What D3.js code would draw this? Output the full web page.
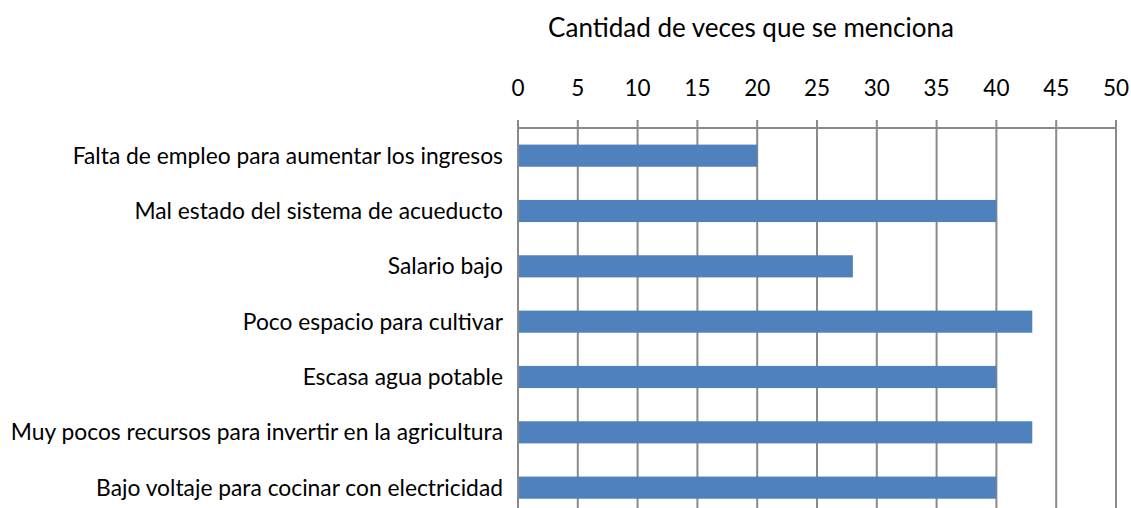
<!DOCTYPE html>
<html>
<head>
<meta charset="utf-8">
<script src="https://cdn.jsdelivr.net/npm/d3@7"></script>
<style>
  body { margin: 0; background: #fff; }
  text { font-family: Lato, "Open Sans", sans-serif; fill: #000; }
</style>
</head>
<body>
<div id="chart"></div>
<script>
const categories = [
  'Falta de empleo para aumentar los ingresos',
  'Mal estado del sistema de acueducto',
  'Salario bajo',
  'Poco espacio para cultivar',
  'Escasa agua potable',
  'Muy pocos recursos para invertir en la agricultura',
  'Bajo voltaje para cocinar con electricidad'
];
const values = [20, 40, 28, 43, 40, 43, 40];
const xTicks = [0, 5, 10, 15, 20, 25, 30, 35, 40, 45, 50];
const title = 'Cantidad de veces que se menciona';

const width = 1131, height = 508;
const plotLeft = 518, plotRight = 1116, plotTop = 128;
const band = 55.33;

const svg = d3.select('#chart').append('svg')
  .attr('width', width)
  .attr('height', height);

const x = d3.scaleLinear().domain([0, 50]).range([plotLeft, plotRight]);
const y = d3.scaleBand()
  .domain(categories)
  .range([plotTop, plotTop + band * categories.length])
  .paddingInner(0.6)
  .paddingOuter(0.3);

// gridlines
svg.append('g')
  .selectAll('line')
  .data(xTicks)
  .join('line')
  .attr('x1', d => x(d)).attr('x2', d => x(d))
  .attr('y1', plotTop - 8).attr('y2', height + 20)
  .attr('stroke', '#8a8a8a')
  .attr('stroke-width', 2);

// axis line
svg.append('line')
  .attr('x1', x(0)).attr('x2', x(50))
  .attr('y1', plotTop).attr('y2', plotTop)
  .attr('stroke', '#8a8a8a')
  .attr('stroke-width', 2);

// tick labels
svg.append('g')
  .selectAll('text')
  .data(xTicks)
  .join('text')
  .attr('x', d => x(d))
  .attr('y', 96)
  .attr('text-anchor', 'middle')
  .style('font-size', '22.5px')
  .text(d => d);

svg.append('text')
  .attr('x', 751)
  .attr('y', 37)
  .attr('text-anchor', 'middle')
  .style('font-size', '26px')
  .text(title);

// bars
svg.append('g')
  .selectAll('rect')
  .data(values)
  .join('rect')
  .attr('x', x(0) + 1)
  .attr('y', (d, i) => y(categories[i]))
  .attr('width', d => x(d) - x(0) - 1)
  .attr('height', y.bandwidth())
  .attr('fill', '#4f81bd');

// category labels
svg.append('g')
  .selectAll('text')
  .data(categories)
  .join('text')
  .attr('x', 503)
  .attr('y', d => y(d) + y.bandwidth() / 2)
  .attr('dy', '0.35em')
  .attr('text-anchor', 'end')
  .style('font-size', '22.8px')
  .text(d => d);
</script>
</body>
</html>
